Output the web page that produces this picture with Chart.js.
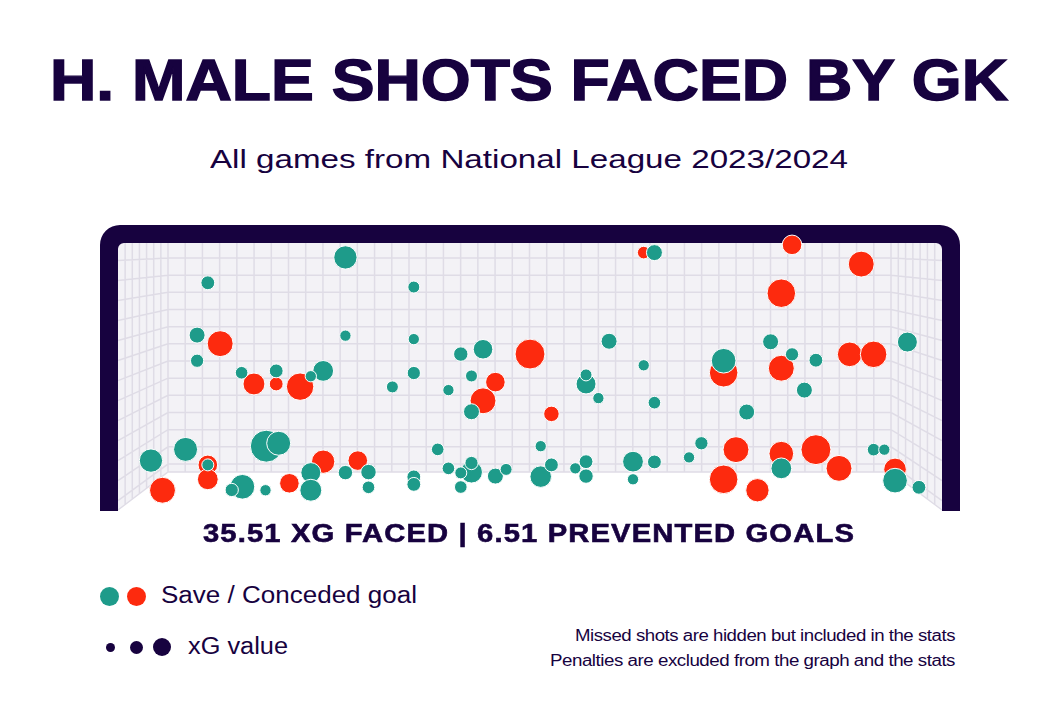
<!DOCTYPE html>
<html>
<head>
<meta charset="utf-8">
<script src="https://cdn.jsdelivr.net/npm/chart.js@4"></script>
<style>
  html, body { margin: 0; padding: 0; background: #fff; }
  body { width: 1058px; height: 720px; position: relative; overflow: hidden; color: #17023f; font-family: "Liberation Sans", Arial, sans-serif; }
  .txt { position: absolute; white-space: nowrap; line-height: 1; display: inline-block; transform-origin: 0 0; }
  #title { font-weight: 700; font-size: 58px; -webkit-text-stroke: 1.4px #17023f; }
  #subtitle { font-size: 26px; }
  #stats { font-weight: 700; font-size: 26px; letter-spacing: 1px; -webkit-text-stroke: 0.6px #17023f; }
  .leg { font-size: 23px; }
  .note { font-size: 16px; letter-spacing: -0.4px; }
  .dot { position: absolute; border-radius: 50%; }
  #goalWrap { position: absolute; left: 90px; top: 215px; width: 880px; height: 305px; }
</style>
</head>
<body>
<div id="title" class="txt" data-x="50" data-w="958" style="top:51px">H. MALE SHOTS FACED BY GK</div>
<div id="subtitle" class="txt" data-x="210" data-w="638" style="top:146px">All games from National League 2023/2024</div>
<div id="goalWrap"><canvas id="goal"></canvas></div>
<div id="stats" class="txt" data-x="203" data-w="652" style="top:520px">35.51 XG FACED | 6.51 PREVENTED GOALS</div>

<span class="dot" style="left:100px;top:587px;width:19px;height:19px;background:#1e9b8a"></span>
<span class="dot" style="left:127px;top:587px;width:19px;height:19px;background:#fd2a0e"></span>
<div class="txt leg" data-x="161" data-w="256" style="top:584px">Save / Conceded goal</div>

<span class="dot" style="left:106px;top:643px;width:9px;height:9px;background:#17023f"></span>
<span class="dot" style="left:130px;top:641px;width:13px;height:13px;background:#17023f"></span>
<span class="dot" style="left:153px;top:638px;width:18px;height:18px;background:#17023f"></span>
<div class="txt leg" data-x="188" data-w="100" style="top:635px">xG value</div>

<div class="txt note" data-x="575" data-w="380" style="top:628px">Missed shots are hidden but included in the stats</div>
<div class="txt note" data-x="550" data-w="405" style="top:653px">Penalties are excluded from the graph and the stats</div>

<script>
// ===== DATA =====
// x: % of goal width from left post, y: % of height from the ground, xg: expected goals
const saveX  = [10.9, 9.6, 9.6, 15.0, 19.2, 18.0, 19.5, 8.2, 4.0, 10.9, 15.1, 13.8, 17.9, 27.6, 35.9, 27.6, 35.9, 41.6, 24.9, 23.4,
                35.9, 33.3, 40.1, 23.4, 23.4, 27.6, 30.4, 30.4, 35.9, 35.9, 38.8, 40.1, 44.3, 59.6, 42.9, 42.9, 56.8, 56.8, 58.3, 51.3,
                42.9, 41.6, 42.9, 41.6, 45.8, 47.1, 51.3, 52.6, 55.5, 56.8, 56.8, 62.5, 65.1, 79.2, 81.8, 83.3, 63.8, 73.5, 65.1, 76.3,
                70.8, 69.3, 65.1, 62.5, 80.5, 84.7, 95.8, 91.7, 93.0, 94.3, 97.2];
const saveY  = [85.1, 65.5, 55.9, 51.4, 52.1, 23.9, 25.0, 22.7, 18.5, 16.9, 8.7, 7.5, 7.4, 94.6, 83.5, 65.3, 64.0, 58.4, 52.1, 50.1,
                51.3, 46.1, 44.9, 14.0, 7.4, 14.0, 14.2, 8.5, 12.4, 9.6, 22.7, 15.6, 60.2, 63.2, 50.2, 36.8, 47.2, 50.6, 41.9, 23.9,
                14.2, 13.9, 17.6, 8.6, 12.7, 15.2, 12.5, 16.9, 15.6, 18.1, 12.7, 18.1, 96.4, 63.0, 58.3, 44.9, 54.2, 55.9, 40.2, 36.7,
                25.0, 19.7, 18.0, 11.5, 15.6, 56.1, 62.9, 22.6, 22.6, 11.0, 8.5];
const saveXg = [0.12, 0.16, 0.11, 0.10, 0.12, 0.64, 0.36, 0.36, 0.34, 0.09, 0.38, 0.11, 0.08, 0.34, 0.09, 0.08, 0.08, 0.13, 0.27, 0.08,
                0.11, 0.09, 0.08, 0.25, 0.30, 0.13, 0.15, 0.10, 0.12, 0.12, 0.10, 0.10, 0.24, 0.16, 0.09, 0.16, 0.25, 0.09, 0.08, 0.08,
                0.30, 0.09, 0.11, 0.10, 0.16, 0.09, 0.29, 0.12, 0.08, 0.12, 0.13, 0.27, 0.16, 0.16, 0.11, 0.16, 0.08, 0.38, 0.10, 0.16,
                0.11, 0.08, 0.12, 0.08, 0.27, 0.12, 0.25, 0.10, 0.08, 0.38, 0.12];

const goalX  = [12.4, 16.5, 19.2, 10.9, 10.9, 5.4, 20.8, 22.1, 24.9, 29.1, 50.0, 45.8, 44.3, 52.6, 63.8, 81.8, 80.5, 80.5, 73.5, 75.0,
                73.5, 77.6, 80.5, 90.2, 88.8, 91.7, 84.7, 87.5, 94.3];
const goalY  = [62.3, 47.2, 47.2, 16.9, 11.5, 7.4, 10.0, 46.2, 18.1, 18.5, 58.4, 47.9, 40.9, 36.0, 96.4, 99.3, 81.2, 53.1, 51.4, 22.6,
                11.5, 7.4, 21.1, 92.1, 58.3, 58.3, 22.6, 15.6, 15.2];
const goalXg = [0.42, 0.30, 0.12, 0.24, 0.27, 0.42, 0.24, 0.47, 0.34, 0.24, 0.56, 0.24, 0.42, 0.15, 0.10, 0.24, 0.51, 0.42, 0.51, 0.42,
                0.51, 0.34, 0.38, 0.42, 0.38, 0.44, 0.56, 0.42, 0.32];

const TEAL = "#1e9b8a", RED = "#fd2a0e", INK = "#17023f";
const NET_BG = "#f3f2f6", NET_LINE = "#dfdce6";

// ===== HELPERS =====
const $ = (id) => document.getElementById(id);
const pts = (xs, ys, gs) => xs.map((x, i) => ({ x, y: ys[i], r: 20 * Math.sqrt(gs[i]) }));

// stretch each text block to the width it has in the reference
document.querySelectorAll(".txt").forEach(el => {
  const w = el.getBoundingClientRect().width;
  el.style.left = el.dataset.x + "px";
  el.style.transform = `scaleX(${(+el.dataset.w / w).toFixed(4)})`;
});

// goal frame + net, drawn behind the bubbles
const goalFrame = {
  id: "goalFrame",
  beforeDatasetsDraw(chart) {
    const { ctx, chartArea: a } = chart;
    const L = a.left, R = a.right, T = a.top, B = a.bottom;
    const bl = L + 50, br = R - 51, bb = B - 38;   // back wall of the net
    const depthY = (y) => T + (y - T) * (B - T) / (bb - T);

    ctx.save();
    ctx.fillStyle = NET_BG;
    ctx.beginPath();
    ctx.moveTo(L, T); ctx.lineTo(R, T); ctx.lineTo(R, B); ctx.lineTo(br, bb);
    ctx.lineTo(bl, bb); ctx.lineTo(L, B); ctx.closePath();
    ctx.fill();

    ctx.strokeStyle = NET_LINE; ctx.lineWidth = 1.5;
    ctx.beginPath();
    const cw = (br - bl) / 42;
    for (let k = 0; k <= 42; k++) { const x = bl + k * cw; ctx.moveTo(x, T); ctx.lineTo(x, bb); }
    const ys = [];
    for (let k = 0; k <= 12; k++) ys.push(T + 15 + k * 17.17);
    ys.push(bb);
    ys.forEach(y => {
      ctx.moveTo(L, depthY(y)); ctx.lineTo(bl, y); ctx.lineTo(br, y); ctx.lineTo(R, depthY(y));
    });
    for (let j = 1; j <= 6; j++) {
      const xl = L + j * 50 / 7, xr = R - j * 51 / 7;
      ctx.moveTo(xl, T); ctx.lineTo(xl, B - (xl - L) / 50 * (B - bb));
      ctx.moveTo(xr, T); ctx.lineTo(xr, B - (R - xr) / 51 * (B - bb));
    }
    ctx.stroke();

    // posts and crossbar
    const t = 18, ro = 20, ri = 6;
    const ox = L - t, oy = T - t, ox2 = R + t, ob = B + 1;
    ctx.fillStyle = INK;
    ctx.beginPath();
    ctx.moveTo(ox, ob); ctx.lineTo(ox, oy + ro); ctx.arcTo(ox, oy, ox + ro, oy, ro);
    ctx.lineTo(ox2 - ro, oy); ctx.arcTo(ox2, oy, ox2, oy + ro, ro); ctx.lineTo(ox2, ob); ctx.closePath();
    ctx.moveTo(L, ob); ctx.lineTo(L, T + ri); ctx.arcTo(L, T, L + ri, T, ri);
    ctx.lineTo(R - ri, T); ctx.arcTo(R, T, R, T + ri, ri); ctx.lineTo(R, ob); ctx.closePath();
    ctx.fill("evenodd");
    ctx.restore();
  }
};

new Chart($("goal"), {
  type: "bubble",
  data: {
    datasets: [
      { label: "Save", data: pts(saveX, saveY, saveXg), backgroundColor: TEAL, borderColor: "#fff", borderWidth: 1, order: 0, clip: false },
      { label: "Conceded goal", data: pts(goalX, goalY, goalXg), backgroundColor: RED, borderColor: "#fff", borderWidth: 1, order: 1, clip: false }
    ]
  },
  options: {
    responsive: true, maintainAspectRatio: false, animation: false,
    layout: { autoPadding: false, padding: { left: 28, right: 28, top: 28, bottom: 10 } },
    scales: {
      x: { type: "linear", min: 0, max: 100, display: false },
      y: { type: "linear", min: 0, max: 100, display: false }
    },
    plugins: { legend: { display: false }, tooltip: { enabled: false } },
    elements: { point: { hoverRadius: 0 } }
  },
  plugins: [goalFrame]
});
</script>
</body>
</html>
